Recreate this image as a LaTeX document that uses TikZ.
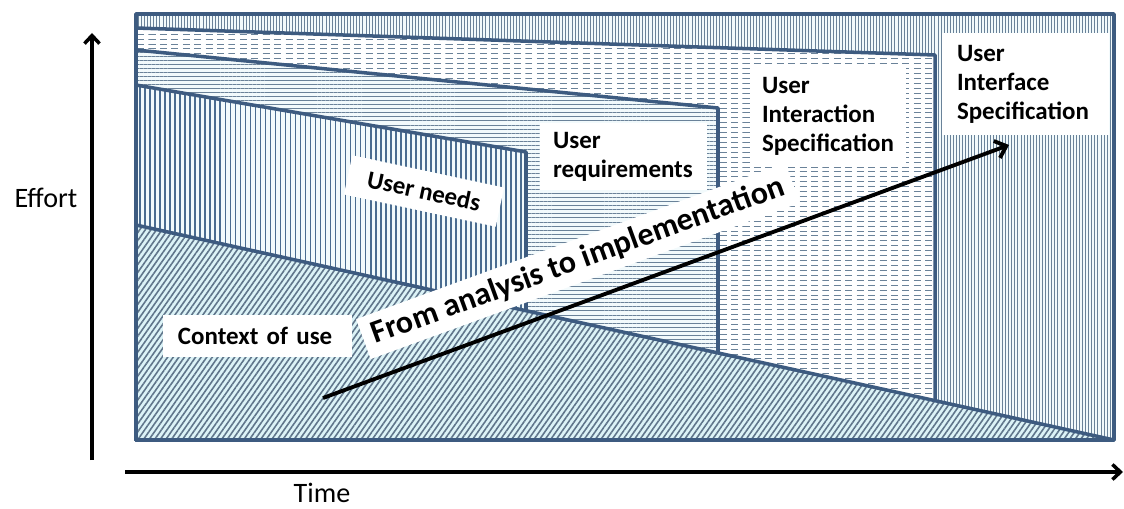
\documentclass[tikz,border=0pt]{standalone}
\usepackage{fontspec}
\setmainfont{Carlito}
\usetikzlibrary{patterns,patterns.meta,arrows.meta}
\definecolor{edge}{HTML}{3D5B80}
\definecolor{hatch}{HTML}{6A8299}
\definecolor{hatchdk}{HTML}{4A6C90}
\definecolor{bgcyan}{HTML}{DCF3F7}
\definecolor{bglight}{HTML}{F2FAFC}
% short dashes in rows
\pgfdeclarepatternformonly{dashrows}{\pgfpoint{-0.1pt}{-0.1pt}}{\pgfpoint{6.6pt}{2.9pt}}{\pgfpoint{6.5pt}{2.8pt}}{%
  \pgfsetlinewidth{0.5pt}%
  \pgfpathmoveto{\pgfpoint{0pt}{1.4pt}}\pgfpathlineto{\pgfpoint{4pt}{1.4pt}}\pgfusepath{stroke}}
\begin{document}
\begin{tikzpicture}[x=0.2mm,y=-0.2mm,line join=round,font=\fontsize{16}{18}\selectfont,
  zone/.style={draw=edge,line width=2pt},
  lbl/.style={fill=white,font=\bfseries\fontsize{14.2}{16.5}\selectfont,align=left,inner ysep=0pt},
  axis/.style={line width=2pt,-{Straight Barb[length=1.6mm,width=3mm]}}]
\useasboundingbox (0,0) rectangle (1124,509);
\path
(136,14) coordinate (TL)
(1114,440) coordinate (BR)
(136,440) coordinate (BL)
(136,28) coordinate (I1) (935,55) coordinate (I2) (935,440) coordinate (I3)
(136,50) coordinate (R1) (718,108) coordinate (R2) (718,440) coordinate (R3)
(136,85) coordinate (N1) (526,152) coordinate (N2) (526,440) coordinate (N3)
(136,225) coordinate (C1)
;
% zones, back to front
\path[preaction={fill=bglight},pattern={Lines[angle=90,distance=1.75pt,line width=0.5pt]},pattern color=hatch] (TL) rectangle (BR);
\path[zone,preaction={fill=white},pattern=dashrows,pattern color=hatch] (I1)--(I2)--(I3)--(BL)--cycle;
\path[zone,preaction={fill=bglight},pattern={Lines[angle=0,distance=2.3pt,line width=0.55pt]},pattern color=hatch] (R1)--(R2)--(R3)--(BL)--cycle;
\path[zone,preaction={fill=bglight},pattern={Lines[angle=90,distance=2.85pt,line width=1pt]},pattern color=hatchdk] (N1)--(N2)--(N3)--(BL)--cycle;
\path[zone,preaction={fill=bgcyan},pattern={Lines[angle=55,distance=2.6pt,line width=0.9pt]},pattern color=hatch!90!black] (C1)--(BR)--(BL)--cycle;
\draw[zone] (TL) rectangle (BR);
% labels
\node[lbl,text width=27.4mm,inner xsep=3mm,minimum height=20.4mm] (uis) at (1025.5,84) {User\\Interface\\Specification};
\node[lbl,text width=26.6mm,inner xsep=2.2mm,minimum height=20mm] (uxs) at (828.5,116) {User\\Interaction\\Specification};
\node[lbl,text width=28.2mm,inner xsep=2.6mm,minimum height=13.4mm] (ur) at (623.5,156.5) {User\\requirements};
\node[lbl,text width=31.8mm,inner xsep=3mm,minimum height=8.4mm] (cu) at (257.5,336) {Context of use};
\node[lbl,rotate=-12,inner xsep=4mm,minimum height=8mm] (un) at (424,191) {User needs};
\node[lbl,rotate=20,font=\bfseries\fontsize{18.2}{20}\selectfont,inner xsep=2mm,inner ysep=1.5mm] (fa) at (578,261) {From analysis to implementation};
% arrow
\path (323,398) coordinate (s) (1009,145) coordinate (e);
\draw[line width=2.2pt,-{Straight Barb[length=2mm,width=3.6mm]}] (s)--(e);
% axes
\path (92,460) coordinate (y0) (92,33) coordinate (y1) (125,472) coordinate (x0) (1123,472) coordinate (x1);
\draw[axis] (y0)--(y1);
\draw[axis] (x0)--(x1);
\node (eff) at (46,198) {Effort};
\node (tim) at (322,493) {Time};
\end{tikzpicture}
\end{document}
